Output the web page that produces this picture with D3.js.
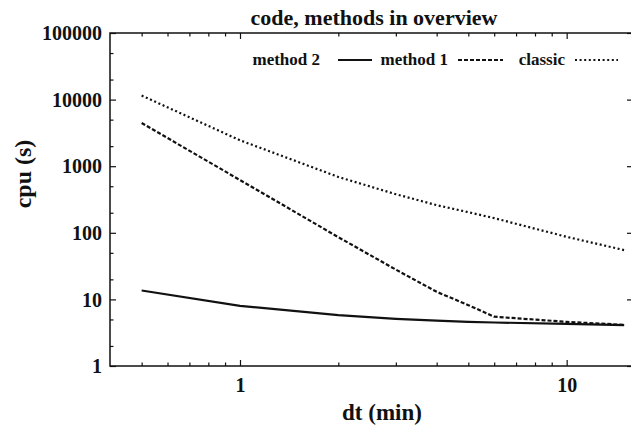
<!DOCTYPE html>
<html>
<head>
<meta charset="utf-8">
<script src="https://cdn.jsdelivr.net/npm/d3@7"></script>
<style>
  body { margin: 0; background: #fff; }
  text { font-family: "Liberation Serif", "Times New Roman", Times, serif; font-weight: bold; fill: #111; }
</style>
</head>
<body>
<div id="chart"></div>
<script>
// chart data
const dt = [0.5, 1, 2, 3, 4, 5, 6, 10, 15];
const classic = [11500, 2450, 690, 380, 260, 204, 166, 87, 55];
const method1 = [4450, 620, 86, 28, 13, 8.2, 5.5, 4.6, 4.15];
const method2 = [13.6, 8.0, 5.8, 5.1, 4.8, 4.6, 4.5, 4.3, 4.1];

const yTicks = [1, 10, 100, 1000, 10000, 100000];
const yMinor = [2, 5, 20, 50, 200, 500, 2000, 5000, 20000, 50000];
const xTicks = [1, 10];
const xMinor = [0.5, 0.6, 0.7, 0.8, 0.9, 2, 3, 4, 5, 6, 7, 8, 9];

const seriesNames = ["method 2", "method 1", "classic"];

const width = 631;
const height = 429;
const margin = {left: 110, right: -1, top: 33, bottom: 63};

const svg = d3.select("#chart")
  .append("svg")
  .attr("width", width)
  .attr("height", height);

// scales
const x = d3.scaleLog()
  .domain([0.4, 15.85])
  .range([margin.left, width - margin.right]);

const y = d3.scaleLog()
  .domain([1, 100000])
  .range([height - margin.bottom, margin.top]);

const x0 = margin.left, x1 = width - margin.right;
const y0 = height - margin.bottom, y1 = margin.top;

// axes, ticks pointing inward
const axisStyle = g => {
  g.select(".domain").remove();
  g.selectAll(".tick line").attr("stroke", "#111").attr("stroke-width", 1.2);
};

// left
svg.append("g")
  .attr("transform", `translate(${x0},0)`)
  .call(d3.axisLeft(y).tickValues(yTicks).tickFormat(d3.format("d")).tickSizeInner(-6).tickSizeOuter(0).tickPadding(8))
  .call(axisStyle)
  .call(g => g.selectAll(".tick text").attr("font-size", "20px").attr("dy", "0.33em"));
svg.append("g")
  .attr("transform", `translate(${x0},0)`)
  .call(d3.axisLeft(y).tickValues(yMinor).tickFormat("").tickSizeInner(-3.5).tickSizeOuter(0))
  .call(axisStyle);

// right
svg.append("g")
  .attr("transform", `translate(${x1},0)`)
  .call(d3.axisRight(y).tickValues(yTicks).tickFormat("").tickSizeInner(-5).tickSizeOuter(0))
  .call(axisStyle);

// bottom
svg.append("g")
  .attr("transform", `translate(0,${y0})`)
  .call(d3.axisBottom(x).tickValues(xTicks).tickFormat(d3.format("d")).tickSizeInner(-6).tickSizeOuter(0).tickPadding(12))
  .call(axisStyle)
  .call(g => g.selectAll(".tick text").attr("font-size", "20px"));
svg.append("g")
  .attr("transform", `translate(0,${y0})`)
  .call(d3.axisBottom(x).tickValues(xMinor).tickFormat("").tickSizeInner(-3.5).tickSizeOuter(0))
  .call(axisStyle);

// top
svg.append("g")
  .attr("transform", `translate(0,${y1})`)
  .call(d3.axisTop(x).tickValues(xTicks).tickFormat("").tickSizeInner(-6).tickSizeOuter(0))
  .call(axisStyle);
svg.append("g")
  .attr("transform", `translate(0,${y1})`)
  .call(d3.axisTop(x).tickValues(xMinor).tickFormat("").tickSizeInner(-3.5).tickSizeOuter(0))
  .call(axisStyle);

// frame
svg.append("rect")
  .attr("x", x0).attr("y", y1)
  .attr("width", x1 - x0).attr("height", y0 - y1)
  .attr("fill", "none")
  .attr("stroke", "#111")
  .attr("stroke-width", 1.5);

// lines
const line = d3.line()
  .x(d => x(d[0]))
  .y(d => y(d[1]));

const styles = {
  "method 2": {dash: null, w: 2.2},
  "method 1": {dash: "4,2", w: 2.2},
  "classic": {dash: "2,2.6", w: 2.2}
};
const seriesData = {
  "method 2": method2,
  "method 1": method1,
  "classic": classic
};

seriesNames.forEach(name => {
  svg.append("path")
    .datum(dt.map((d, i) => [d, seriesData[name][i]]))
    .attr("fill", "none")
    .attr("stroke", "#111")
    .attr("stroke-width", styles[name].w)
    .attr("stroke-dasharray", styles[name].dash)
    .attr("d", line);
});

// legend (text then line sample)
const legendPos = [
  {textEnd: 320, s0: 338, s1: 372},
  {textEnd: 448, s0: 458, s1: 503},
  {textEnd: 565, s0: 575, s1: 618}
];
const legendY = 60;
seriesNames.forEach((name, i) => {
  const p = legendPos[i];
  svg.append("text")
    .attr("x", p.textEnd)
    .attr("y", legendY + 5)
    .attr("text-anchor", "end")
    .attr("font-size", "17px")
    .text(name);
  svg.append("line")
    .attr("x1", p.s0).attr("x2", p.s1)
    .attr("y1", legendY).attr("y2", legendY)
    .attr("stroke", "#111")
    .attr("stroke-width", styles[name].w)
    .attr("stroke-dasharray", styles[name].dash);
});

// titles
svg.append("text")
  .attr("x", 374)
  .attr("y", 25)
  .attr("text-anchor", "middle")
  .attr("font-size", "22px")
  .text("code, methods in overview");

svg.append("text")
  .attr("x", 382)
  .attr("y", 420)
  .attr("text-anchor", "middle")
  .attr("font-size", "23px")
  .text("dt (min)");

svg.append("text")
  .attr("transform", "translate(31,174) rotate(-90)")
  .attr("text-anchor", "middle")
  .attr("font-size", "24px")
  .text("cpu (s)");
</script>
</body>
</html>
